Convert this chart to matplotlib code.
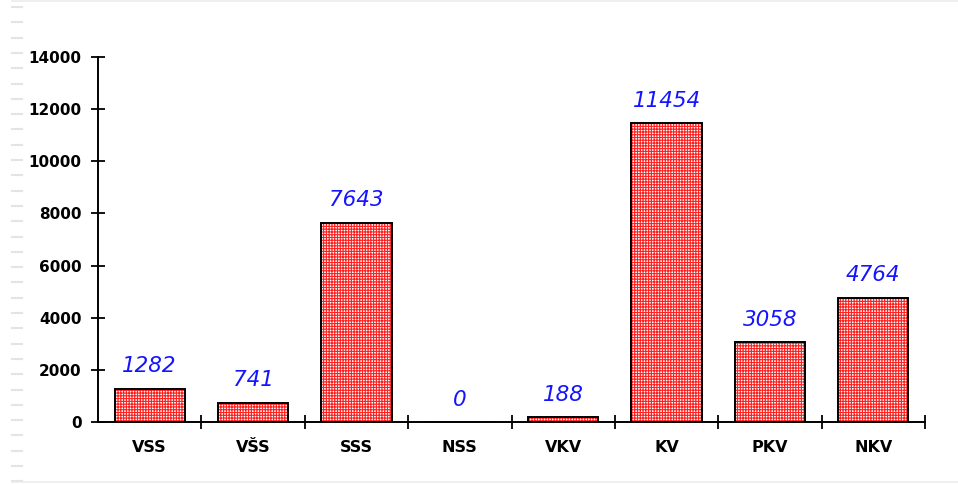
import matplotlib
matplotlib.use("Agg")
import matplotlib.pyplot as plt
from matplotlib.lines import Line2D
import numpy as np

categories = ["VSS", "VŠS", "SSS", "NSS", "VKV", "KV", "PKV", "NKV"]
values = [1282, 741, 7643, 0, 188, 11454, 3058, 4764]
yticks = [0, 2000, 4000, 6000, 8000, 10000, 12000, 14000]

plt.rcParams['font.family'] = ['DejaVu Sans']
plt.rcParams['hatch.linewidth'] = 0.8

W, H = 958, 484
fig = plt.figure(figsize=(W / 100, H / 100), dpi=100)
fig.patch.set_facecolor('white')
ax = fig.add_axes([98 / W, (H - 422) / H, (925 - 98) / W, (422 - 57) / H])

x = np.arange(len(categories))
ax.bar(x, values, width=0.68, color='white', edgecolor='#ff2020', hatch='++++++', linewidth=0, zorder=2)
ax.bar(x, values, width=0.68, fill=False, edgecolor='black', linewidth=1.4, zorder=3)

for xi, v in zip(x, values):
    ax.annotate(f"{v}", (xi, v), xytext=(0, 9), textcoords='offset points',
                ha='center', va='bottom', color='#1414ff', fontsize=15.5,
                style='italic')

ax.set_xlim(-0.5, len(categories) - 0.5)
ax.set_ylim(0, 14000)
ax.set_yticks(yticks)
ax.set_yticklabels([str(t) for t in yticks], fontsize=11, fontweight='bold')
ax.set_xticks(x)
ax.set_xticklabels(categories, fontsize=11.5, fontweight='bold')
ax.set_xticks(np.arange(len(categories)) + 0.5, minor=True)
ax.tick_params(axis='x', which='major', length=0, pad=13)
ax.tick_params(axis='x', which='minor', direction='inout', length=9.5, width=1.3)
ax.tick_params(axis='y', which='major', direction='inout', length=9.5, width=1.3, pad=7)

for s in ['top', 'right']:
    ax.spines[s].set_visible(False)
for s in ['left', 'bottom']:
    ax.spines[s].set_linewidth(1.4)

# faint frame decorations
for yy in np.arange(7, 484, 15.3):
    fig.add_artist(Line2D([12 / W, 22 / W], [1 - yy / H, 1 - yy / H], color='#e4e4e4', lw=1.5))
fig.add_artist(Line2D([12 / W, 1], [1 - 1 / H, 1 - 1 / H], color='#ececec', lw=1.2))
fig.add_artist(Line2D([12 / W, 1], [1 - 482 / H, 1 - 482 / H], color='#ececec', lw=1.2))

fig.savefig("out.png", dpi=100)
